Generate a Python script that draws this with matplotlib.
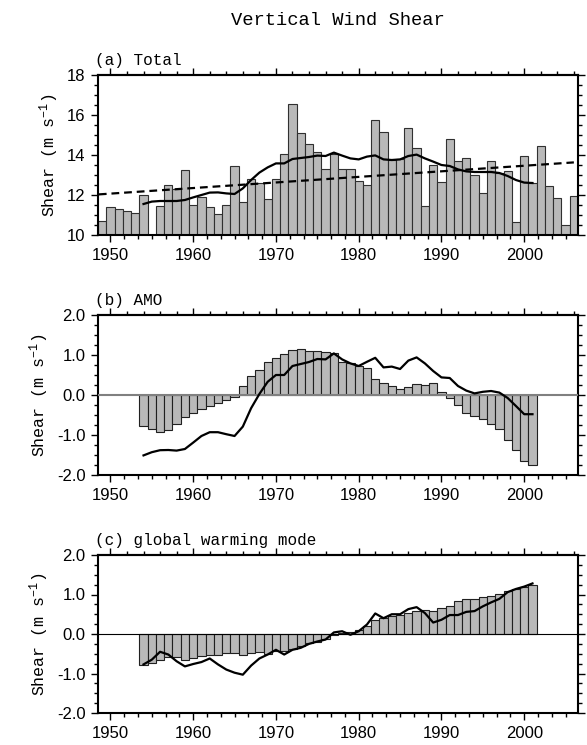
import matplotlib.pyplot as plt
import numpy as np
from matplotlib.ticker import MultipleLocator, FixedLocator

plt.rcParams['mathtext.fontset'] = 'custom'
plt.rcParams['mathtext.rm'] = 'Liberation Mono'
plt.rcParams['mathtext.it'] = 'Liberation Mono'

# (a) total shear, 1949-2006 (1955 missing)
years_total = np.arange(1949, 2007)
total = [10.7, 11.38, 11.3, 11.22, 11.12, 11.98, np.nan, 11.43, 12.48, 12.32,
         13.25, 11.48, 11.92, 11.42, 11.03, 11.48, 13.45, 11.67, 12.78, 12.6,
         11.82, 12.78, 14.05, 16.55, 15.08, 14.53, 14.13, 13.28, 14.05, 13.3,
         13.28, 12.7, 12.52, 15.73, 15.15, 13.75, 13.78, 15.33, 14.33, 11.43,
         13.48, 12.65, 14.78, 13.68, 13.87, 13.0, 12.08, 13.7, 13.08, 13.2,
         10.67, 13.97, 12.62, 14.45, 12.47, 11.85, 10.52, 11.95]
trend_years = [1948.6, 2006]
trend_vals = [12.03, 13.63]

# smoothed curves and modes, 1954-2001
years = np.arange(1954, 2002)
total_smooth = [11.55, 11.67, 11.7, 11.7, 11.7, 11.75, 11.88, 12.0, 12.12, 12.13,
                12.08, 12.05, 12.33, 12.75, 13.12, 13.38, 13.58, 13.58, 13.8, 13.85,
                13.9, 13.97, 13.95, 14.12, 13.97, 13.83, 13.78, 13.92, 13.98, 13.78,
                13.75, 13.78, 13.95, 14.02, 13.83, 13.67, 13.5, 13.45, 13.28, 13.18,
                13.15, 13.15, 13.15, 13.1, 12.95, 12.75, 12.62, 12.6]
amo = [-0.77, -0.86, -0.93, -0.88, -0.73, -0.55, -0.46, -0.34, -0.27, -0.19,
       -0.12, -0.06, 0.22, 0.47, 0.62, 0.83, 0.93, 1.03, 1.12, 1.15,
       1.11, 1.1, 1.07, 1.04, 0.83, 0.79, 0.72, 0.67, 0.41, 0.29,
       0.23, 0.16, 0.21, 0.27, 0.25, 0.29, 0.08, -0.07, -0.26, -0.44,
       -0.53, -0.61, -0.73, -0.85, -1.12, -1.37, -1.66, -1.75]
amo_line = [-1.51, -1.43, -1.38, -1.375, -1.39, -1.35, -1.19, -1.025, -0.93, -0.93,
            -0.98, -1.025, -0.79, -0.33, 0.025, 0.33, 0.5, 0.5, 0.725, 0.775,
            0.825, 0.9, 0.89, 1.04, 0.89, 0.79, 0.725, 0.83, 0.93, 0.69,
            0.71, 0.65, 0.86, 0.94, 0.79, 0.6, 0.44, 0.425, 0.225, 0.11,
            0.04, 0.08, 0.1, 0.06, -0.075, -0.275, -0.48, -0.48]
gw = [-0.79, -0.73, -0.65, -0.59, -0.58, -0.66, -0.62, -0.55, -0.53, -0.54,
      -0.49, -0.49, -0.54, -0.47, -0.45, -0.5, -0.43, -0.43, -0.38, -0.31,
      -0.23, -0.19, -0.13, -0.02, 0.03, 0.06, 0.11, 0.2, 0.35, 0.4,
      0.45, 0.49, 0.54, 0.58, 0.61, 0.59, 0.66, 0.72, 0.825, 0.88,
      0.89, 0.93, 0.96, 1.01, 1.09, 1.15, 1.2, 1.25]
gw_line = [-0.77, -0.65, -0.45, -0.52, -0.69, -0.82, -0.76, -0.71, -0.62, -0.77,
           -0.9, -0.98, -1.03, -0.8, -0.62, -0.52, -0.4, -0.52, -0.4, -0.35,
           -0.25, -0.19, -0.14, 0.04, 0.07, -0.02, 0.07, 0.24, 0.52, 0.4,
           0.5, 0.5, 0.63, 0.68, 0.53, 0.29, 0.36, 0.48, 0.48, 0.56,
           0.58, 0.7, 0.8, 0.89, 1.06, 1.14, 1.2, 1.28]

mono = 'Liberation Mono'
sans = 'Liberation Sans'
barc = '#b9b9b9'

W, H = 587, 745
fig = plt.figure(figsize=(W / 100, H / 100), dpi=100)

def make_ax(top, bottom):
    return fig.add_axes([98 / W, 1 - bottom / H, 480 / W, (bottom - top) / H])

ax1 = make_ax(75, 235)
ax2 = make_ax(315, 475)
ax3 = make_ax(555, 713)

ax1.bar(years_total, total, width=1.0, color=barc, edgecolor='#303030', linewidth=0.8)
ax1.plot(years, total_smooth, color='k', lw=1.6)
ax1.plot(trend_years, trend_vals, color='k', lw=1.6, ls=(0, (3.5, 2.2)))
ax1.set_ylim(10, 18)
ax1.yaxis.set_major_locator(FixedLocator([10, 12, 14, 16, 18]))
ax1.yaxis.set_minor_locator(MultipleLocator(0.5))

for ax, b, l, zc, zw in [(ax2, amo, amo_line, '#808080', 1.5), (ax3, gw, gw_line, 'k', 0.8)]:
    ax.bar(years, b, width=1.0, color=barc, edgecolor='#202020', linewidth=0.8)
    ax.axhline(0, color=zc, lw=zw, zorder=3)
    ax.plot(years, l, color='k', lw=1.6, zorder=4)
    ax.set_ylim(-2, 2)
    ax.yaxis.set_major_locator(FixedLocator([-2, -1, 0, 1, 2]))
    ax.yaxis.set_minor_locator(MultipleLocator(0.25))
    ax.set_yticklabels(['-2.0', '-1.0', '0.0', '1.0', '2.0'])

for ax in (ax1, ax2, ax3):
    ax.set_xlim(1948.5, 2006.5)
    ax.set_xticks([1950, 1960, 1970, 1980, 1990, 2000])
    # bottom minor ticks: 6 intervals per decade
    ax.xaxis.set_minor_locator(FixedLocator(np.arange(1940, 2010.1, 10 / 6)))
    ax.tick_params(which='both', direction='out', top=False, right=True, width=1)
    ax.tick_params(which='major', length=5, pad=4)
    ax.tick_params(which='minor', length=3)
    for lab in ax.get_xticklabels() + ax.get_yticklabels():
        lab.set_family(sans)
        lab.set_fontsize(12)
    for s in ax.spines.values():
        s.set_linewidth(1.5)
    ax.set_ylabel('Shear (m s$^{-1}$)', family=mono, fontsize=12, labelpad=4)
    # top ticks: every 2 years
    sec = ax.secondary_xaxis('top')
    sec.set_xticks([1950, 1960, 1970, 1980, 1990, 2000])
    sec.xaxis.set_minor_locator(FixedLocator(np.arange(1948, 2007, 2)))
    sec.tick_params(which='both', direction='out', labeltop=False, width=1)
    sec.tick_params(which='major', length=5)
    sec.tick_params(which='minor', length=3)
    sec.spines['top'].set_linewidth(1.5)

for ax, t in [(ax1, '(a) Total'), (ax2, '(b) AMO'), (ax3, '(c) global warming mode')]:
    ax.annotate(t, xy=(0, 1), xycoords='axes fraction', xytext=(-3, 10),
                textcoords='offset pixels', family=mono, fontsize=11.5,
                ha='left', va='baseline')

fig.text(338 / W, 1 - 25 / H, 'Vertical Wind Shear', family=mono, fontsize=13.5,
         ha='center', va='baseline')

fig.savefig('out.png', dpi=100, facecolor='white')
